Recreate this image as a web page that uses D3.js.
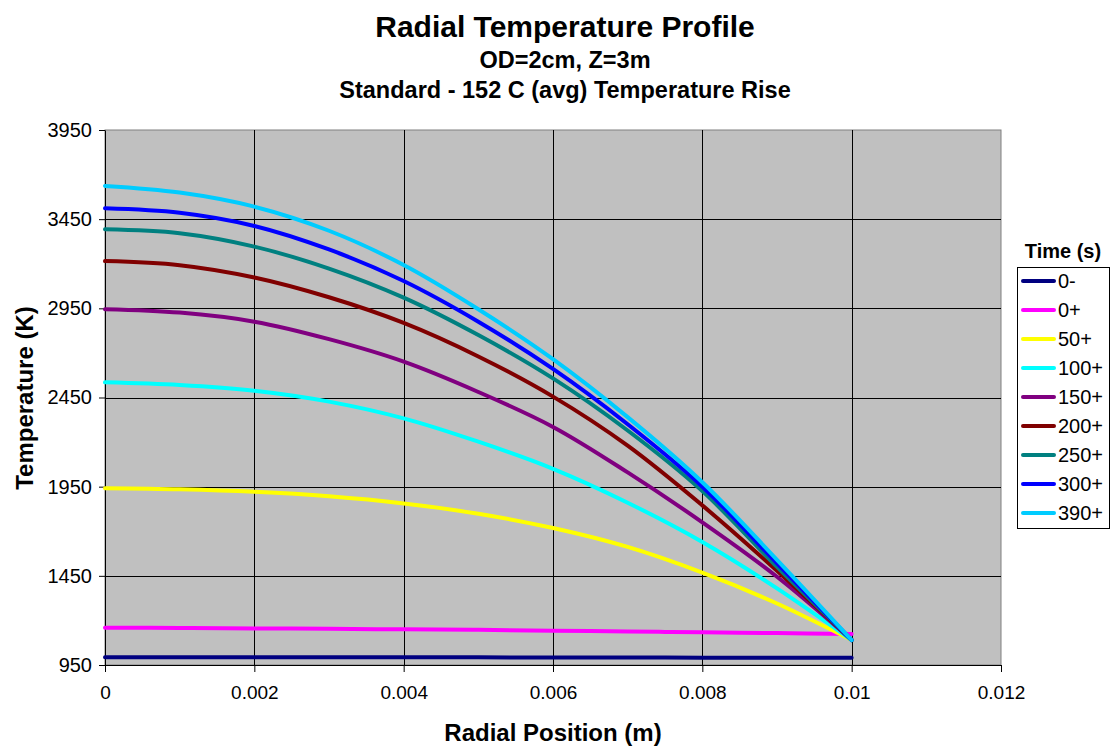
<!DOCTYPE html>
<html><head><meta charset="utf-8">
<script src="https://cdn.jsdelivr.net/npm/d3@7"></script>
<style>body{margin:0;background:#fff;} svg{display:block;} text{font-family:"Liberation Sans",Arial,sans-serif;}</style>
</head><body>
<svg id="c" width="1112" height="748"></svg>
<script>
const radialPositions = [0,0.001,0.002,0.003,0.004,0.005,0.006,0.007,0.008,0.009,0.01];
const seriesNames = ["0-","0+","50+","100+","150+","200+","250+","300+","390+"];
const seriesColors = ["#000080","#FF00FF","#FFFF00","#00FFFF","#800080","#800000","#008080","#0000FF","#00CCFF"];
const t0minus = [993,993,993,993,993,993,992,992,991,991,990];
const t0plus  = [1159,1158,1155,1153,1150,1147,1142,1138,1133,1129,1124];
const t50     = [1941,1935,1921,1896,1856,1798,1718,1612,1468,1295,1090];
const t100    = [2535,2520,2488,2427,2333,2202,2050,1860,1640,1380,1090];
const t150    = [2945,2926,2875,2777,2651,2481,2285,2030,1750,1445,1090];
const t200    = [3215,3192,3123,3012,2868,2680,2455,2180,1845,1478,1090];
const t250    = [3393,3371,3296,3173,3010,2800,2557,2265,1925,1500,1090];
const t300    = [3511,3486,3412,3280,3103,2875,2610,2300,1950,1520,1090];
const t390    = [3636,3599,3520,3385,3193,2945,2665,2340,1975,1540,1090];
const seriesValues = [t0minus,t0plus,t50,t100,t150,t200,t250,t300,t390];
const xTicks = [0,0.002,0.004,0.006,0.008,0.01,0.012];
const yTicks = [950,1450,1950,2450,2950,3450,3950];

const svg = d3.select("#c");
const L=105, R=1001, T=130, B=665;
const x = d3.scaleLinear().domain([0,0.012]).range([L,R]);
const y = d3.scaleLinear().domain([950,3950]).range([B,T]);

svg.append("rect").attr("x",L).attr("y",T).attr("width",R-L).attr("height",B-T)
  .attr("fill","#C0C0C0").attr("stroke","#808080").attr("stroke-width",1);

// gridlines
svg.append("g").selectAll("line").data(xTicks.slice(1,-1)).join("line")
  .attr("x1",d=>Math.round(x(d))+0.5).attr("x2",d=>Math.round(x(d))+0.5)
  .attr("y1",T).attr("y2",B).attr("stroke","#000").attr("stroke-width",1);
svg.append("g").selectAll("line").data(yTicks.slice(1,-1)).join("line")
  .attr("y1",d=>Math.round(y(d))+0.5).attr("y2",d=>Math.round(y(d))+0.5)
  .attr("x1",L).attr("x2",R).attr("stroke","#000").attr("stroke-width",1);

// axes
const xAxis = d3.axisBottom(x).tickValues(xTicks).tickFormat(d=>String(+d.toFixed(3))).tickSize(7).tickSizeOuter(0);
const gx = svg.append("g").attr("transform",`translate(0,${B})`).call(xAxis);
gx.attr("font-size",null).attr("font-family",null);
gx.select(".domain").attr("stroke","#000");
gx.selectAll(".tick line").attr("stroke","#000");
gx.selectAll("text").style("font-size","19px").attr("fill","#000").attr("y",21).attr("dy","0.71em");

const yAxis = d3.axisLeft(y).tickValues(yTicks).tickFormat(d3.format("d")).tickSize(6).tickSizeOuter(0);
const gy = svg.append("g").attr("transform",`translate(${L},0)`).call(yAxis);
gy.attr("font-size",null).attr("font-family",null);
gy.select(".domain").attr("stroke","#000");
gy.selectAll(".tick line").attr("stroke","#000");
gy.selectAll("text").style("font-size","20px").attr("fill","#000").attr("x",-13);

// lines
const line = d3.line().x((d,i)=>x(radialPositions[i])).y(d=>y(d)).curve(d3.curveCatmullRom.alpha(0.5));
svg.append("g").selectAll("path").data(seriesValues).join("path")
  .attr("d",d=>line(d)).attr("fill","none")
  .attr("stroke",(d,i)=>seriesColors[i]).attr("stroke-width",4)
  .attr("stroke-linejoin","round").attr("stroke-linecap","round");

// titles
svg.append("text").attr("x",565).attr("y",37).attr("text-anchor","middle")
  .style("font-size","30px").attr("font-weight","bold").text("Radial Temperature Profile");
svg.append("text").attr("x",565).attr("y",68).attr("text-anchor","middle")
  .style("font-size","23.5px").attr("font-weight","bold").text("OD=2cm, Z=3m");
svg.append("text").attr("x",565).attr("y",98).attr("text-anchor","middle")
  .style("font-size","23.5px").attr("font-weight","bold").text("Standard - 152 C (avg) Temperature Rise");
svg.append("text").attr("x",553).attr("y",741).attr("text-anchor","middle")
  .style("font-size","24px").attr("font-weight","bold").text("Radial Position (m)");
svg.append("text").attr("transform","translate(33,398) rotate(-90)").attr("text-anchor","middle")
  .style("font-size","24px").attr("font-weight","bold").text("Temperature (K)");

// legend
svg.append("text").attr("x",1063).attr("y",258).attr("text-anchor","middle")
  .style("font-size","20px").attr("font-weight","bold").text("Time (s)");
svg.append("rect").attr("x",1017.5).attr("y",267.5).attr("width",92).attr("height",261)
  .attr("fill","#fff").attr("stroke","#000").attr("stroke-width",1);
const lg = svg.append("g").selectAll("g").data(seriesNames).join("g")
  .attr("transform",(d,i)=>`translate(0,${281+i*29})`);
lg.append("line").attr("x1",1023).attr("x2",1054).attr("y1",0).attr("y2",0)
  .attr("stroke",(d,i)=>seriesColors[i]).attr("stroke-width",4).attr("stroke-linecap","round");
lg.append("text").attr("x",1058).attr("y",7).style("font-size","20px").text(d=>d);
</script>
</body></html>
